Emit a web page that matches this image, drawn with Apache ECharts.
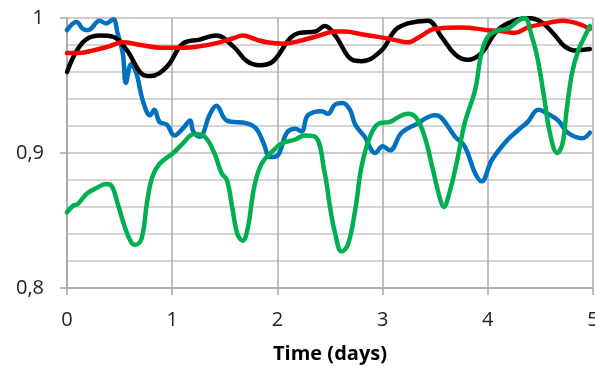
<!DOCTYPE html>
<html>
<head>
<meta charset="utf-8">
<script src="https://cdn.jsdelivr.net/npm/echarts@6/dist/echarts.min.js"></script>
<style>
  html, body { margin: 0; padding: 0; background: #fff; }
  #chart { width: 595px; height: 367px; }
</style>
</head>
<body>
<div id="chart"></div>
<script>
// values: [time (days), value]
const blueData = [
  [0, 0.991], [0.09, 0.997], [0.15, 0.992], [0.2, 0.991], [0.31, 0.998], [0.37, 0.996],
  [0.44, 0.999], [0.48, 0.989], [0.53, 0.974], [0.56, 0.952], [0.61, 0.966], [0.66, 0.959],
  [0.72, 0.939], [0.79, 0.928], [0.83, 0.932], [0.88, 0.923], [0.95, 0.921], [1.02, 0.913],
  [1.1, 0.918], [1.17, 0.924], [1.2, 0.916], [1.26, 0.912], [1.36, 0.929], [1.42, 0.935],
  [1.52, 0.924], [1.71, 0.922], [1.8, 0.918], [1.87, 0.907], [1.93, 0.897], [2.0, 0.898],
  [2.09, 0.915], [2.17, 0.918], [2.23, 0.916], [2.29, 0.928], [2.42, 0.931], [2.48, 0.929],
  [2.55, 0.936], [2.62, 0.937], [2.69, 0.932], [2.74, 0.921], [2.83, 0.912], [2.93, 0.900],
  [3.0, 0.905], [3.07, 0.902], [3.18, 0.915], [3.31, 0.921], [3.5, 0.928], [3.56, 0.926],
  [3.69, 0.912], [3.78, 0.905], [3.88, 0.885], [3.94, 0.879], [4.04, 0.895], [4.19, 0.910],
  [4.29, 0.917], [4.38, 0.923], [4.48, 0.932], [4.57, 0.929], [4.67, 0.924], [4.76, 0.915],
  [4.9, 0.911], [4.97, 0.915]
];
const blackData = [
  [0, 0.960], [0.15, 0.982], [0.31, 0.987], [0.44, 0.986], [0.57, 0.976], [0.72, 0.958],
  [0.79, 0.957], [0.95, 0.964], [1.1, 0.981], [1.26, 0.984], [1.42, 0.987], [1.58, 0.979],
  [1.71, 0.968], [1.83, 0.965], [1.96, 0.968], [2.12, 0.985], [2.21, 0.989], [2.36, 0.990],
  [2.45, 0.994], [2.55, 0.987], [2.71, 0.969], [2.8, 0.968], [2.99, 0.976], [3.12, 0.991],
  [3.24, 0.996], [3.43, 0.998], [3.56, 0.986], [3.69, 0.973], [3.81, 0.969], [3.94, 0.974],
  [4.07, 0.989], [4.19, 0.996], [4.38, 1.0], [4.51, 0.997], [4.64, 0.987], [4.73, 0.979],
  [4.83, 0.976], [4.97, 0.977]
];
const redData = [
  [0, 0.974], [0.1, 0.974], [0.25, 0.976], [0.4, 0.979], [0.53, 0.982], [0.7, 0.980],
  [0.9, 0.978], [1.1, 0.978], [1.26, 0.979], [1.4, 0.981], [1.58, 0.985], [1.67, 0.987],
  [1.8, 0.984], [1.9, 0.982], [2.05, 0.981], [2.21, 0.983], [2.4, 0.987], [2.55, 0.990],
  [2.64, 0.990], [2.8, 0.988], [2.96, 0.986], [3.1, 0.984], [3.24, 0.982], [3.35, 0.986],
  [3.5, 0.992], [3.75, 0.993], [4.0, 0.991], [4.15, 0.990], [4.26, 0.989], [4.38, 0.993],
  [4.55, 0.996], [4.71, 0.998], [4.85, 0.996], [4.97, 0.992]
];
const greenData = [
  [0, 0.856], [0.06, 0.861], [0.1, 0.862], [0.19, 0.870], [0.28, 0.874], [0.37, 0.877],
  [0.42, 0.876], [0.48, 0.863], [0.55, 0.845], [0.61, 0.834], [0.65, 0.832], [0.71, 0.837],
  [0.76, 0.863], [0.81, 0.882], [0.88, 0.892], [1.01, 0.900], [1.1, 0.907], [1.21, 0.914],
  [1.31, 0.912], [1.4, 0.900], [1.47, 0.885], [1.52, 0.880], [1.57, 0.860], [1.62, 0.840],
  [1.67, 0.835], [1.72, 0.845], [1.78, 0.875], [1.85, 0.892], [1.95, 0.901], [2.04, 0.907],
  [2.17, 0.910], [2.26, 0.913], [2.36, 0.912], [2.45, 0.885], [2.5, 0.860], [2.55, 0.840],
  [2.61, 0.827], [2.67, 0.832], [2.74, 0.858], [2.8, 0.890], [2.88, 0.912], [2.97, 0.922],
  [3.07, 0.923], [3.16, 0.927], [3.24, 0.929], [3.32, 0.926], [3.4, 0.912], [3.48, 0.887],
  [3.55, 0.865], [3.58, 0.860], [3.64, 0.872], [3.71, 0.895], [3.78, 0.922], [3.88, 0.947],
  [3.94, 0.974], [4.0, 0.986], [4.1, 0.991], [4.19, 0.992], [4.29, 0.998], [4.35, 1.0],
  [4.42, 0.986], [4.47, 0.971], [4.53, 0.944], [4.59, 0.915], [4.66, 0.900], [4.71, 0.907],
  [4.75, 0.932], [4.8, 0.959], [4.86, 0.976], [4.92, 0.986], [4.97, 0.994]
];
const xTicks = [0, 1, 2, 3, 4, 5];
const yTicks = [0.8, 0.9, 1];

const chart = echarts.init(document.getElementById('chart'));
const fontFamily = 'Open Sans, Liberation Sans, sans-serif';

function lineSeries (data, color) {
  return {
    type: 'line',
    data: data,
    smooth: 0.4,
    showSymbol: false,
    lineStyle: { color: color, width: 4.5, cap: 'round', join: 'round' }
  };
}

chart.setOption({
  animation: false,
  grid: { left: 67, right: 2, top: 18, bottom: 79, outerBoundsMode: 'none', containLabel: false },
  xAxis: {
    type: 'value',
    min: xTicks[0],
    max: xTicks[xTicks.length - 1],
    interval: 1,
    name: 'Time (days)',
    nameLocation: 'middle',
    nameGap: 56,
    nameTextStyle: { fontSize: 20, fontWeight: 'bold', color: '#000', fontFamily: fontFamily },
    axisLine: { show: true, lineStyle: { color: '#a6a6a6', width: 1.5 } },
    axisTick: { show: true, length: 7, lineStyle: { color: '#a6a6a6', width: 1.5 } },
    axisLabel: { fontSize: 20, color: '#222', margin: 22, fontFamily: fontFamily },
    splitLine: { show: true, lineStyle: { color: '#adadad', width: 1.5 } }
  },
  yAxis: {
    type: 'value',
    min: yTicks[0],
    max: yTicks[yTicks.length - 1],
    interval: 0.1,
    axisLine: { show: true, lineStyle: { color: '#a6a6a6', width: 1.5 } },
    axisTick: { show: true, length: 7, lineStyle: { color: '#a6a6a6', width: 1.5 } },
    axisLabel: {
      fontSize: 20, color: '#222', margin: 23, fontFamily: fontFamily,
      formatter: function (v) { return v === 1 ? '1' : v.toFixed(1).replace('.', ','); }
    },
    splitLine: { show: true, lineStyle: { color: '#bdbdbd', width: 1.5 } },
    minorTick: { show: false, splitNumber: 5 },
    minorSplitLine: { show: true, lineStyle: { color: '#c8c8c8', width: 1.5 } }
  },
  series: [
    lineSeries(blueData, '#0070c0'),
    lineSeries(blackData, '#000000'),
    lineSeries(redData, '#ff0000'),
    lineSeries(greenData, '#00b050')
  ]
});
</script>
</body>
</html>
